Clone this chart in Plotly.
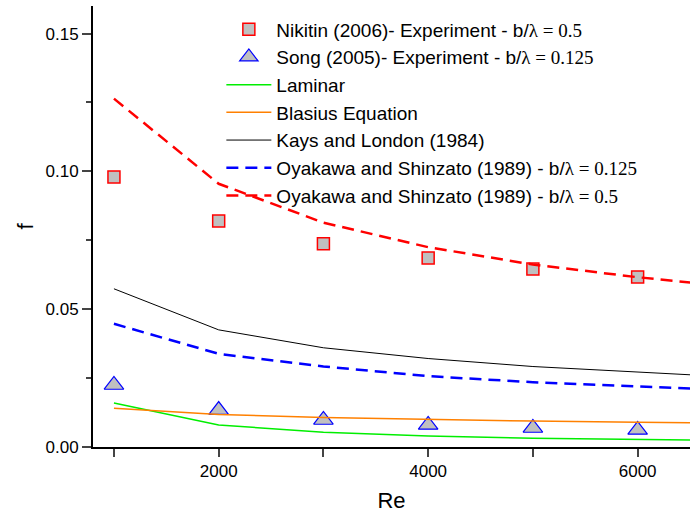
import plotly.graph_objects as go

re_exp = [1000, 2000, 3000, 4000, 5000, 6000]
nikitin_f = [0.0980, 0.0820, 0.0737, 0.0686, 0.0646, 0.0617]
song_f = [0.0225, 0.0134, 0.0098, 0.0080, 0.0069, 0.0062]

re_line = [1000, 2000, 3000, 4000, 5000, 6000, 7000]
laminar_f = [0.0160, 0.0080, 0.00533, 0.0040, 0.0032, 0.00267, 0.00229]
blasius_f = [0.01405, 0.01181, 0.01067, 0.00993, 0.00939, 0.00898, 0.00864]
kays_f = [0.0574, 0.0425, 0.0360, 0.0321, 0.0292, 0.0270, 0.0252]
oya_0125_f = [0.0447, 0.0338, 0.0292, 0.0257, 0.0235, 0.0219, 0.0205]
oya_05_f = [0.1264, 0.0955, 0.0814, 0.0725, 0.0662, 0.0616, 0.0578]

SANS = "Liberation Sans, Arial, sans-serif"
SERIF = "Liberation Serif, Times New Roman, serif"

def lam(v):
    return "b/<span style='font-family:%s'>λ = %s</span>" % (SERIF, v)

fig = go.Figure()
fig.add_trace(go.Scatter(x=re_exp, y=nikitin_f, mode="markers",
    name="Nikitin (2006)- Experiment - " + lam("0.5"),
    marker=dict(symbol="square", size=12, color="#c0c0c0", line=dict(color="red", width=1.5))))
fig.add_trace(go.Scatter(x=re_exp, y=song_f, mode="markers",
    name="Song (2005)- Experiment - " + lam("0.125"),
    marker=dict(symbol="triangle-up", size=17, color="#c0c0c0", line=dict(color="blue", width=1.2))))
fig.add_trace(go.Scatter(x=re_line, y=laminar_f, mode="lines", name="Laminar",
    line=dict(color="#00ee00", width=1.5)))
fig.add_trace(go.Scatter(x=re_line, y=blasius_f, mode="lines", name="Blasius Equation",
    line=dict(color="#ff8000", width=1.5)))
fig.add_trace(go.Scatter(x=re_line, y=kays_f, mode="lines", name="Kays and London (1984)",
    line=dict(color="black", width=1)))
fig.add_trace(go.Scatter(x=re_line, y=oya_0125_f, mode="lines",
    name="Oyakawa and Shinzato (1989) - " + lam("0.125"),
    line=dict(color="blue", width=2.5, dash="12px,7px")))
fig.add_trace(go.Scatter(x=re_line, y=oya_05_f, mode="lines",
    name="Oyakawa and Shinzato (1989) - " + lam("0.5"),
    line=dict(color="red", width=2.5, dash="12px,7px")))

fig.update_layout(
    width=690, height=518,
    margin=dict(l=93, r=0, t=6, b=71),
    paper_bgcolor="white", plot_bgcolor="white",
    font=dict(family=SANS, size=17, color="black"),
    showlegend=True,
    legend=dict(x=0.215, y=0.99, xanchor="left", yanchor="top",
                bgcolor="rgba(0,0,0,0)", font=dict(size=19, family=SANS),
                tracegroupgap=0, itemwidth=45),
    xaxis=dict(range=[800, 6500], tickvals=[2000, 4000, 6000], ticktext=["2000", "4000", "6000"],
               ticks="outside", ticklen=8, tickwidth=1.5, showline=True, linewidth=2, linecolor="black",
               showgrid=False, zeroline=False, tickfont=dict(size=17),
               minor=dict(tickvals=[1000, 3000, 5000], ticks="outside", ticklen=8, tickwidth=1.5),
               title=dict(text="Re", font=dict(size=22), standoff=12)),
    yaxis=dict(range=[0, 0.16], tickvals=[0, 0.05, 0.10, 0.15], tickformat=".2f",
               ticks="outside", ticklen=9, tickwidth=1.5, showline=True, linewidth=2, linecolor="black",
               showgrid=False, zeroline=False, tickfont=dict(size=17),
               minor=dict(tickvals=[0.025, 0.075, 0.125], ticks="outside", ticklen=5, tickwidth=1.5),
               title=dict(text="f", font=dict(size=22), standoff=6)),
    xaxis2=dict(range=[800, 6500], overlaying="x", side="top", anchor="y",
                tickvals=[1000, 2000, 3000, 4000, 5000, 6000], ticks="inside", ticklen=8, tickwidth=1.5,
                showticklabels=False, showline=True, linewidth=2, linecolor="black",
                showgrid=False, zeroline=False),
    yaxis2=dict(range=[0, 0.16], overlaying="y", side="right", anchor="x",
                tickvals=[0.025, 0.05, 0.075, 0.10, 0.125, 0.15], ticks="inside", ticklen=7, tickwidth=1.5,
                showticklabels=False, showline=False,
                showgrid=False, zeroline=False),
)

fig.write_html("out.html")
